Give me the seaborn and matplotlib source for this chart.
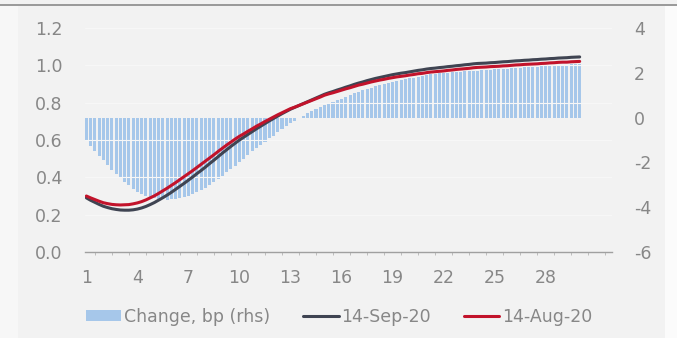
import numpy as np
import matplotlib
matplotlib.use("Agg")
import matplotlib.pyplot as plt
from matplotlib.patches import Patch, Rectangle
from matplotlib.lines import Line2D
from matplotlib.ticker import FixedLocator
import seaborn as sns

# Maturity in years (quarterly steps)
tenor = np.arange(1.0, 30.001, 0.25)

# Curve on 14-Sep-20 (lhs, %)
curve_sep = [
    0.290, 0.277, 0.266, 0.255, 0.245, 0.238, 0.232, 0.228,
    0.225, 0.224, 0.224, 0.226, 0.230, 0.236, 0.244, 0.254,
    0.265, 0.278, 0.291, 0.305, 0.320, 0.336, 0.352, 0.368,
    0.385, 0.402, 0.420, 0.437, 0.455, 0.474, 0.492, 0.511,
    0.530, 0.548, 0.566, 0.583, 0.600, 0.615, 0.630, 0.645,
    0.660, 0.674, 0.688, 0.702, 0.715, 0.728, 0.741, 0.753,
    0.765, 0.775, 0.785, 0.795, 0.805, 0.815, 0.825, 0.835,
    0.845, 0.853, 0.860, 0.868, 0.875, 0.883, 0.890, 0.898,
    0.905, 0.911, 0.918, 0.924, 0.930, 0.935, 0.940, 0.945,
    0.950, 0.954, 0.958, 0.961, 0.965, 0.969, 0.973, 0.976,
    0.980, 0.983, 0.985, 0.988, 0.990, 0.993, 0.995, 0.998,
    1.000, 1.003, 1.005, 1.008, 1.010, 1.011, 1.012, 1.014,
    1.015, 1.017, 1.019, 1.020, 1.022, 1.024, 1.025, 1.027,
    1.028, 1.030, 1.031, 1.033, 1.034, 1.036, 1.037, 1.039,
    1.040, 1.041, 1.043, 1.044, 1.045,
]

# Curve on 14-Aug-20 (lhs, %)
curve_aug = [
    0.300, 0.290, 0.281, 0.272, 0.264, 0.259, 0.255, 0.253,
    0.252, 0.253, 0.254, 0.258, 0.263, 0.270, 0.279, 0.290,
    0.301, 0.314, 0.328, 0.342, 0.357, 0.372, 0.388, 0.404,
    0.420, 0.436, 0.453, 0.470, 0.487, 0.504, 0.521, 0.539,
    0.556, 0.573, 0.589, 0.605, 0.620, 0.633, 0.647, 0.660,
    0.674, 0.686, 0.699, 0.711, 0.723, 0.735, 0.746, 0.757,
    0.768, 0.776, 0.785, 0.794, 0.803, 0.812, 0.821, 0.830,
    0.840, 0.847, 0.853, 0.860, 0.867, 0.874, 0.880, 0.887,
    0.894, 0.899, 0.905, 0.911, 0.916, 0.921, 0.925, 0.930,
    0.934, 0.938, 0.941, 0.944, 0.948, 0.951, 0.955, 0.957,
    0.961, 0.964, 0.966, 0.968, 0.970, 0.973, 0.975, 0.978,
    0.980, 0.982, 0.984, 0.987, 0.989, 0.990, 0.991, 0.993,
    0.994, 0.995, 0.997, 0.998, 1.000, 1.002, 1.003, 1.005,
    1.006, 1.007, 1.008, 1.010, 1.011, 1.013, 1.014, 1.016,
    1.017, 1.017, 1.019, 1.020, 1.021,
]

# Change between the two dates, bp (rhs)
change_bp = [
    -1.00, -1.25, -1.48, -1.70, -1.90, -2.12, -2.33, -2.52,
    -2.70, -2.87, -3.02, -3.17, -3.30, -3.41, -3.50, -3.56,
    -3.60, -3.63, -3.65, -3.66, -3.65, -3.62, -3.59, -3.55,
    -3.50, -3.42, -3.34, -3.25, -3.15, -3.02, -2.89, -2.75,
    -2.60, -2.45, -2.30, -2.15, -2.00, -1.84, -1.68, -1.51,
    -1.35, -1.21, -1.07, -0.93, -0.80, -0.66, -0.52, -0.38,
    -0.25, -0.13, -0.02, 0.09, 0.20, 0.29, 0.38, 0.46,
    0.55, 0.63, 0.70, 0.78, 0.85, 0.93, 1.00, 1.08,
    1.15, 1.21, 1.28, 1.34, 1.40, 1.45, 1.50, 1.55,
    1.60, 1.64, 1.68, 1.71, 1.75, 1.79, 1.83, 1.86,
    1.90, 1.93, 1.95, 1.98, 2.00, 2.01, 2.03, 2.04,
    2.05, 2.06, 2.08, 2.09, 2.10, 2.11, 2.13, 2.14,
    2.15, 2.16, 2.18, 2.19, 2.20, 2.21, 2.23, 2.24,
    2.25, 2.26, 2.28, 2.29, 2.30, 2.31, 2.33, 2.34,
    2.35, 2.36, 2.38, 2.39, 2.40,
]

x_labels = [1, 4, 7, 10, 13, 16, 19, 22, 25, 28]
left_ticks = [0.0, 0.2, 0.4, 0.6, 0.8, 1.0, 1.2]
right_ticks = [-6, -4, -2, 0, 2, 4]

series_names = ["Change, bp (rhs)", "14-Sep-20", "14-Aug-20"]
bar_color = "#a6c7ea"
sep_color = "#3f4452"
aug_color = "#c2132b"
text_color = "#878787"
bg_color = "#f2f2f2"

sns.set_theme(style="white")
plt.rcParams["font.family"] = ["DejaVu Sans"]

fig = plt.figure(figsize=(6.77, 3.38), dpi=100, facecolor=bg_color)
ax = fig.add_axes([85 / 677, 1 - 252 / 338, (612 - 85) / 677, (252 - 28) / 338])
ax2 = ax.twinx()

# bars on the right-hand axis, drawn underneath the curves
sns.barplot(x=tenor, y=change_bp, native_scale=True, ax=ax2, color=bar_color,
            saturation=1, width=0.72, errorbar=None, linewidth=0)

sns.lineplot(x=tenor, y=curve_sep, ax=ax, color=sep_color, linewidth=2.2)
sns.lineplot(x=tenor, y=curve_aug, ax=ax, color=aug_color, linewidth=2.2)

ax.set_zorder(ax2.get_zorder() + 1)
ax.patch.set_visible(False)
ax2.set_facecolor(bg_color)

ax.set_xlim(0.92, 31.9)
ax.set_ylim(0, 1.2)
ax2.set_ylim(-6, 4)

for a in (ax, ax2):
    for s in a.spines.values():
        s.set_visible(False)
ax.spines["bottom"].set_visible(True)
ax.spines["bottom"].set_color("#a0a0a0")
ax.spines["bottom"].set_linewidth(1.0)

ax.set_yticks(left_ticks)
ax.set_yticklabels([f"{v:.1f}" for v in left_ticks])
ax2.set_yticks(right_ticks)
ax2.set_yticklabels([str(v) for v in right_ticks])
ax.tick_params(axis="y", length=0, pad=16, labelsize=12.5, labelcolor=text_color)
ax2.tick_params(axis="y", length=0, pad=16, labelsize=12.5, labelcolor=text_color)

ax.xaxis.set_major_locator(FixedLocator(np.arange(1, 32, 1)))
ax.xaxis.set_minor_locator(FixedLocator(np.arange(1.5, 32, 1)))
ax.set_xticklabels([str(int(t)) if int(t) in x_labels else "" for t in np.arange(1, 32, 1)])
ax.tick_params(axis="x", which="major", length=5, width=0.8, color="#a0a0a0",
               direction="out", pad=7, labelsize=12.5, labelcolor=text_color)
ax.tick_params(axis="x", which="minor", length=2.5, width=0.6, color="#b5b5b5",
               direction="out", bottom=True)

ax.grid(True, axis="y", color="#f7f7f7", linewidth=0.8)
ax.set_axisbelow(True)
ax.set_xlabel("")
ax.set_ylabel("")
ax2.set_ylabel("")

handles = [
    Patch(facecolor=bar_color, edgecolor="none"),
    Line2D([0], [0], color=sep_color, linewidth=2.2),
    Line2D([0], [0], color=aug_color, linewidth=2.2),
]
fig.legend(handles, series_names, loc="center left", bbox_to_anchor=(70 / 677, 1 - 317 / 338),
           ncol=3, frameon=False, fontsize=12.5, labelcolor=text_color,
           handlelength=2.05, handleheight=0.6, handletextpad=0.15, columnspacing=1.9)

# frame details around the chart panel
fig.add_artist(Line2D([0, 1], [1 - 5 / 338, 1 - 5 / 338], transform=fig.transFigure,
                      color="#8a8a8a", linewidth=1.2))
fig.add_artist(Rectangle((0, 0), 18 / 677, 1 - 6 / 338, transform=fig.transFigure,
                         facecolor="#f7f7f7", edgecolor="none", zorder=-1))
fig.add_artist(Rectangle((665 / 677, 0), 12 / 677, 1 - 6 / 338, transform=fig.transFigure,
                         facecolor="#fbfbfb", edgecolor="none", zorder=-1))

fig.savefig("out.png", dpi=100, facecolor=bg_color)
